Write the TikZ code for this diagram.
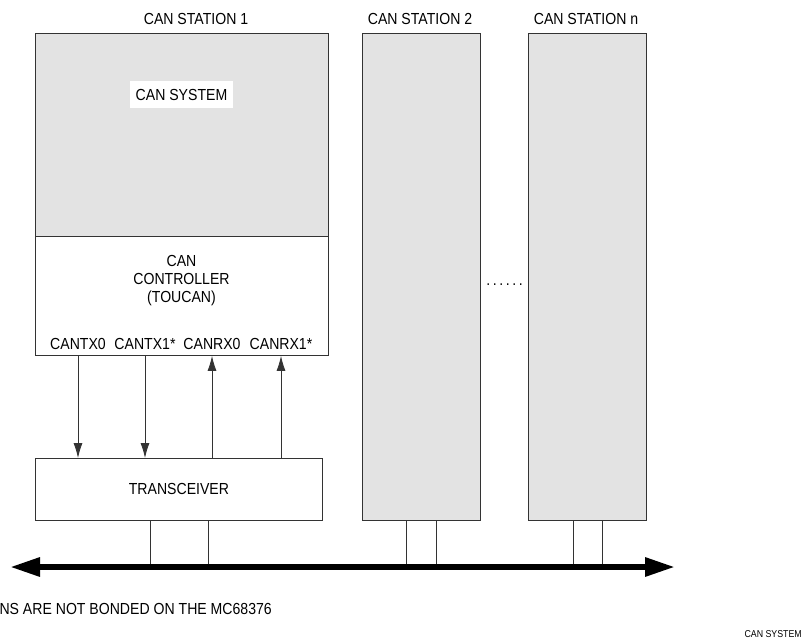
\documentclass[tikz,border=0pt]{standalone}
\usepackage{fontspec}
\setmainfont{Liberation Sans}[FakeStretch=0.88]
\usepackage{tikz}
\usetikzlibrary{arrows.meta,positioning}
\definecolor{boxgray}{HTML}{E3E3E3}
\definecolor{linegray}{HTML}{333333}

\begin{document}
\begin{tikzpicture}[
  x=1pt, y=-1pt,
  font=\fontsize{16}{18}\selectfont,
  graybox/.style={rectangle, draw=linegray, fill=boxgray, line width=0.9pt,
                  inner sep=0pt, anchor=north west},
  whitebox/.style={rectangle, draw=linegray, fill=white, line width=0.9pt,
                   inner sep=0pt, anchor=north west, align=center},
  pin/.style={inner sep=0pt, anchor=base},
  sig/.style={-{Latex[length=15pt, width=9pt]}, line width=0.8pt, draw=linegray},
  stub/.style={line width=0.8pt, draw=linegray},
  bus/.style={{Triangle[length=30pt, width=18pt]}-{Triangle[length=30pt, width=18pt]},
              line width=6pt}
]
  \useasboundingbox (0,0) rectangle (803,638);

  % station 1
  \node[graybox, minimum width=293pt, minimum height=203pt] (sys1) at (35,33) {};
  \node[fill=white, minimum width=103pt, minimum height=27pt, inner sep=0pt] (syslabel) at (181.5,94.5) {CAN SYSTEM};
  \node[whitebox, minimum width=293pt, minimum height=119pt] (ctrl1) at (35,236) {};
  \node[align=center, inner sep=0pt] (ctrltext) at (181.5,281) {CAN\\CONTROLLER\\(TOUCAN)};
  \node[anchor=base, inner sep=0pt] (st1) at (196,24) {CAN STATION 1};

  % pins
  \node[pin] (tx0) at (78,349) {CANTX0};
  \node[pin] (tx1) at (145,349) {CANTX1*};
  \node[pin] (rx0) at (212,349) {CANRX0};
  \node[pin] (rx1) at (281,349) {CANRX1*};

  % transceiver
  \node[whitebox, minimum width=287pt, minimum height=62pt] (xcvr) at (35,458) {};
  \node[inner sep=0pt] (xcvrtext) at (xcvr.center) {TRANSCEIVER};

  % other stations
  \node[graybox, minimum width=118pt, minimum height=487pt] (st2box) at (362,33) {};
  \node[anchor=base, inner sep=0pt] (st2) at (420,24) {CAN STATION 2};
  \node[graybox, minimum width=118pt, minimum height=487pt] (stnbox) at (528,33) {};
  \node[anchor=base, inner sep=0pt] (stn) at (586,24) {CAN STATION n};
  \node[anchor=base, inner sep=0pt] (gap) at (504.5,285) {.\kern2.6pt.\kern2.6pt.\kern2.6pt.\kern2.6pt.\kern2.6pt.};

  % bus
  \coordinate (busL) at (10,567);
  \coordinate (busR) at (675,567);
  \foreach \n/\d in {xcvr/29, st2box/15, stnbox/14.5} {
    \draw[stub] ([xshift=-\d pt]\n.south) -- ([xshift=-\d pt]\n.south |- busL);
    \draw[stub] ([xshift=\d pt]\n.south) -- ([xshift=\d pt]\n.south |- busL);
  }
  \draw[bus] (busL) -- (busR);

  % signals
  \draw[sig] (tx0 |- ctrl1.south) -- (tx0 |- xcvr.north);
  \draw[sig] (tx1 |- ctrl1.south) -- (tx1 |- xcvr.north);
  \draw[sig] (rx0 |- xcvr.north) -- (rx0 |- ctrl1.south);
  \draw[sig] (rx1 |- xcvr.north) -- (rx1 |- ctrl1.south);

  % notes
  \node[anchor=base east, inner sep=0pt] (note) at (272,614) {NS ARE NOT BONDED ON THE MC68376};
  \node[anchor=base east, inner sep=0pt, font=\fontsize{10}{10}\selectfont] (fig) at (802,637) {CAN SYSTEM};
\end{tikzpicture}
\end{document}
